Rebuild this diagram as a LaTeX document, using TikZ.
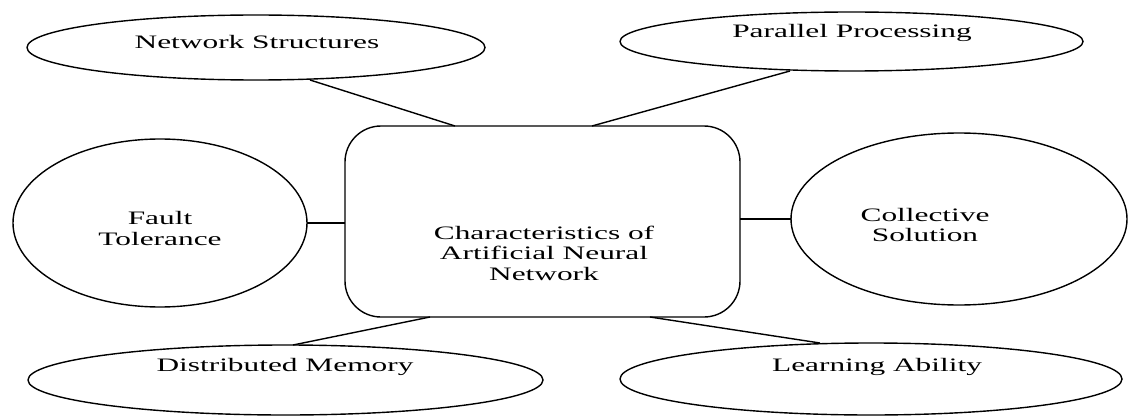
\documentclass[tikz,border=0pt]{standalone}
\usepackage{fontspec}
\setmainfont{Liberation Serif}[FakeStretch=1.65]
\usetikzlibrary{shapes.geometric}

\tikzstyle{trait} = [ellipse, draw = black, line width = 0.7pt, inner sep = 0pt, outer sep = 0pt]
\tikzstyle{hub} = [rectangle, rounded corners = 18pt, draw = black, line width = 0.7pt, minimum width = 197.5pt, minimum height = 95.5pt, inner sep = 0pt, outer sep = 0pt]
\tikzstyle{tag} = [align = center, font = \fontsize{9.5pt}{10.3pt}\selectfont, inner sep = 0pt]
\tikzstyle{link} = [line width = 0.7pt]

\begin{document}
\begin{tikzpicture}[x = 0.5pt, y = -0.5pt]

    \useasboundingbox (0,0) rectangle (1128,417);

    \node(core)[hub] at (542.5,221.5) {};
    \node(coretag)[tag] at (544,253) {Characteristics of\\Artificial Neural\\Network};

    \node(ns)[trait, minimum width = 229pt, minimum height = 32.5pt] at (256,47.5) {};
    \node(nstag)[tag] at (257,42) {Network Structures};
    \node(pp)[trait, minimum width = 231.5pt, minimum height = 29.5pt] at (851.5,41.5) {};
    \node(pptag)[tag] at (852,33) {Parallel Processing};
    \node(ft)[trait, minimum width = 147pt, minimum height = 84pt] at (160,223) {};
    \node(fttag)[tag] at (160,228.5) {Fault\\Tolerance};
    \node(cs)[trait, minimum width = 168pt, minimum height = 86pt] at (959,219) {};
    \node(cstag)[tag] at (925,225) {Collective\\Solution};
    \node(dm)[trait, minimum width = 257.5pt, minimum height = 35pt] at (285.5,380) {};
    \node(dmtag)[tag] at (285,367) {Distributed Memory};
    \node(la)[trait, minimum width = 251pt, minimum height = 36pt] at (871,379) {};
    \node(latag)[tag] at (877,367) {Learning Ability};

    \draw[link]([xshift = 27pt]ns.south) -- ([xshift = -43.75pt]core.north);
    \draw[link]([xshift = -30.75pt]pp.south) -- ([xshift = 24.75pt]core.north);
    \draw[link](ft.east) -- (ft.east -| core.west);
    \draw[link](core.east |- cs.west) -- (cs.west);
    \draw[link]([xshift = -56.25pt]core.south) -- ([xshift = 3.75pt]dm.north);
    \draw[link]([xshift = 53.75pt]core.south) -- ([xshift = -25.5pt]la.north);

\end{tikzpicture}
\end{document}
